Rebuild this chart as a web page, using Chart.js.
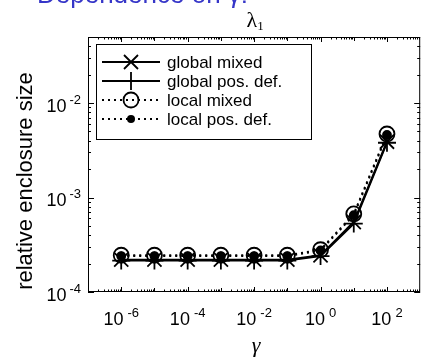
<!DOCTYPE html>
<html><head><meta charset="utf-8">
<script src="https://cdn.jsdelivr.net/npm/chart.js@4"></script>
<style>html,body{margin:0;padding:0;background:#fff;overflow:hidden}canvas{display:block}</style>
</head><body><canvas id="c" width="432" height="358"></canvas>
<script>
// ---- data ----
const gammaValues   = [1e-6, 1e-5, 1e-4, 1e-3, 1e-2, 1e-1, 1, 10, 100];
const globalMixed   = [2.2e-4, 2.2e-4, 2.2e-4, 2.2e-4, 2.2e-4, 2.2e-4, 2.45e-4, 5.5e-4, 3.9e-3];
const globalPosDef  = [2.15e-4, 2.15e-4, 2.15e-4, 2.15e-4, 2.15e-4, 2.15e-4, 2.4e-4, 5.3e-4, 3.8e-3];
const localMixed    = [2.45e-4, 2.45e-4, 2.45e-4, 2.45e-4, 2.45e-4, 2.45e-4, 2.8e-4, 6.7e-4, 4.7e-3];
const localPosDef   = [2.4e-4, 2.4e-4, 2.4e-4, 2.4e-4, 2.4e-4, 2.4e-4, 2.75e-4, 6.5e-4, 4.6e-3];
const seriesNames   = ["global mixed", "global pos. def.", "local mixed", "local pos. def."];
const xTickValues   = [1e-6, 1e-4, 1e-2, 1, 100];
const xTickExps     = ["-6", "-4", "-2", "0", "2"];
const yTickValues   = [1e-4, 1e-3, 1e-2];
const yTickExps     = ["-4", "-3", "-2"];
const pageTitle     = "Dependence on γ:";
const plotTitle     = "λ";
const plotTitleSub  = "1";
const xLabel        = "γ";
const yLabel        = "relative enclosure size";
const xMin = 1e-7, xMax = 1e3, yMin = 1e-4, yMax = 0.05;

const SANS = '"Liberation Sans", Arial, sans-serif';
const SERIF = '"Liberation Serif", "Times New Roman", serif';

function mk(data, label, style, dash, radius, fill, order) {
  return {
    label, data: gammaValues.map((g, i) => ({x: g, y: data[i]})),
    borderColor: '#000', backgroundColor: fill, borderWidth: 2, borderDash: dash,
    pointStyle: style, pointRadius: radius, pointBorderColor: '#000',
    pointBackgroundColor: fill, pointBorderWidth: 1.8, tension: 0, order
  };
}

function drawMarker(ctx, style, x, y) {
  ctx.save();
  ctx.strokeStyle = '#000'; ctx.fillStyle = '#000'; ctx.lineWidth = 1.8;
  ctx.beginPath();
  if (style === 'x') { const d = 7; ctx.moveTo(x-d,y-d); ctx.lineTo(x+d,y+d); ctx.moveTo(x-d,y+d); ctx.lineTo(x+d,y-d); ctx.stroke(); }
  else if (style === '+') { const d = 9; ctx.moveTo(x-d,y); ctx.lineTo(x+d,y); ctx.moveTo(x,y-d); ctx.lineTo(x,y+d); ctx.stroke(); }
  else if (style === 'o') { ctx.arc(x,y,7.5,0,Math.PI*2); ctx.stroke(); }
  else { ctx.arc(x,y,4,0,Math.PI*2); ctx.fill(); }
  ctx.restore();
}

const decorPlugin = {
  id: 'decor',
  afterDraw(chart) {
    const ctx = chart.ctx, a = chart.chartArea;
    const xs = chart.scales.x, ys = chart.scales.y;
    ctx.save();
    // frame
    ctx.strokeStyle = '#000'; ctx.lineWidth = 1;
    ctx.strokeRect(a.left + 0.5, a.top + 0.5, a.right - a.left - 1, a.bottom - a.top - 1);
    // x ticks
    ctx.beginPath();
    for (let e = -7; e <= 2; e++) {
      for (let m = 1; m <= 9; m++) {
        const v = m * Math.pow(10, e);
        if (v < xMin || v > xMax) continue;
        const px = Math.round(xs.getPixelForValue(v)) + 0.5;
        const major = (m === 1 && xTickValues.some(t => Math.abs(t - v) / v < 1e-9));
        const len = major ? 5 : (m === 1 ? 4 : 2.5);
        ctx.moveTo(px, a.bottom); ctx.lineTo(px, a.bottom - len);
        ctx.moveTo(px, a.top); ctx.lineTo(px, a.top + len);
      }
    }
    // y ticks
    for (let e = -4; e <= -2; e++) {
      for (let m = 1; m <= 9; m++) {
        const v = m * Math.pow(10, e);
        if (v < yMin || v > yMax * 1.0001) continue;
        const py = Math.round(ys.getPixelForValue(v)) + 0.5;
        const len = m === 1 ? 6 : 3;
        ctx.moveTo(a.left, py); ctx.lineTo(a.left + len, py);
        ctx.moveTo(a.right, py); ctx.lineTo(a.right - len, py);
      }
    }
    ctx.stroke();
    // tick labels
    ctx.fillStyle = '#000';
    ctx.textBaseline = 'alphabetic';
    xTickValues.forEach((v, i) => {
      const px = xs.getPixelForValue(v);
      ctx.font = '18px ' + SANS;
      const w1 = ctx.measureText('10').width;
      ctx.font = '13px ' + SANS;
      const w2 = ctx.measureText(xTickExps[i]).width;
      const gap = 4, tot = w1 + gap + w2;
      const x0 = px - tot / 2;
      ctx.textAlign = 'left';
      ctx.font = '18px ' + SANS; ctx.fillText('10', x0, 325);
      ctx.font = '13px ' + SANS; ctx.fillText(xTickExps[i], x0 + w1 + gap, 317);
    });
    yTickValues.forEach((v, i) => {
      const py = ys.getPixelForValue(v);
      ctx.font = '13px ' + SANS;
      const w2 = ctx.measureText(yTickExps[i]).width;
      ctx.textAlign = 'left';
      const right = 81;
      ctx.fillText(yTickExps[i], right - w2, py + 0.5);
      ctx.font = '18px ' + SANS;
      const w1 = ctx.measureText('10').width;
      ctx.fillText('10', right - w2 - 3 - w1, py + 8.5);
    });
    // axis labels
    ctx.textAlign = 'center';
    ctx.font = 'italic 22px ' + SERIF;
    ctx.fillText(xLabel, (a.left + a.right) / 2 + 2, 352);
    ctx.save();
    ctx.translate(32, 181);
    ctx.rotate(-Math.PI / 2);
    ctx.font = '22px ' + SANS;
    ctx.textAlign = 'center';
    ctx.fillText(yLabel, 0, 0);
    ctx.restore();
    // plot title
    ctx.font = '22px ' + SERIF;
    const lw = ctx.measureText(plotTitle).width;
    ctx.font = '13px ' + SERIF;
    const sw = ctx.measureText(plotTitleSub).width;
    const cx = (a.left + a.right) / 2 + 1;
    const tx = cx - (lw + sw) / 2;
    ctx.textAlign = 'left';
    ctx.font = '22px ' + SERIF; ctx.fillText(plotTitle, tx, 27);
    ctx.font = '13px ' + SERIF; ctx.fillText(plotTitleSub, tx + lw, 30);
    // page title (partly cut at the top)
    ctx.fillStyle = '#3636c8';
    ctx.font = '26px ' + SANS;
    ctx.fillText(pageTitle, 37, 3);
    // legend
    const lx0 = 96, ly0 = 44, lx1 = 311, ly1 = 139;
    ctx.fillStyle = '#fff';
    ctx.fillRect(lx0, ly0, lx1 - lx0, ly1 - ly0);
    ctx.strokeStyle = '#000'; ctx.lineWidth = 1;
    ctx.strokeRect(lx0 + 0.5, ly0 + 0.5, lx1 - lx0, ly1 - ly0);
    const rows = [62, 81, 100, 119];
    const styles = ['x', '+', 'o', '.'];
    const dashes = [[], [], [2, 4], [2, 4]];
    rows.forEach((ry, i) => {
      ctx.save();
      ctx.strokeStyle = '#000'; ctx.lineWidth = 2; ctx.setLineDash(dashes[i]);
      ctx.beginPath(); ctx.moveTo(102, ry); ctx.lineTo(160, ry); ctx.stroke();
      ctx.restore();
      drawMarker(ctx, styles[i], 131, ry);
      ctx.fillStyle = '#000';
      ctx.font = '17px ' + SANS;
      ctx.textAlign = 'left'; ctx.textBaseline = 'middle';
      ctx.fillText(seriesNames[i], 167, ry + 1);
      ctx.textBaseline = 'alphabetic';
    });
    ctx.restore();
  }
};

new Chart(document.getElementById('c'), {
  type: 'line',
  data: {
    datasets: [
      mk(globalMixed, seriesNames[0], 'crossRot', [], 10, 'rgba(0,0,0,0)', 3),
      mk(globalPosDef, seriesNames[1], 'cross', [], 9, 'rgba(0,0,0,0)', 2),
      mk(localMixed, seriesNames[2], 'circle', [2, 4], 7.5, 'rgba(0,0,0,0)', 1),
      mk(localPosDef, seriesNames[3], 'circle', [2, 4], 4, '#000', 0)
    ]
  },
  options: {
    responsive: false, animation: false, devicePixelRatio: 1,
    layout: { padding: { left: 88, right: 1, top: 37, bottom: 66 } },
    plugins: { legend: { display: false }, title: { display: false }, tooltip: { enabled: false } },
    scales: {
      x: { type: 'logarithmic', min: xMin, max: xMax, display: false },
      y: { type: 'logarithmic', min: yMin, max: yMax, display: false }
    }
  },
  plugins: [decorPlugin]
});
</script>
</body></html>
